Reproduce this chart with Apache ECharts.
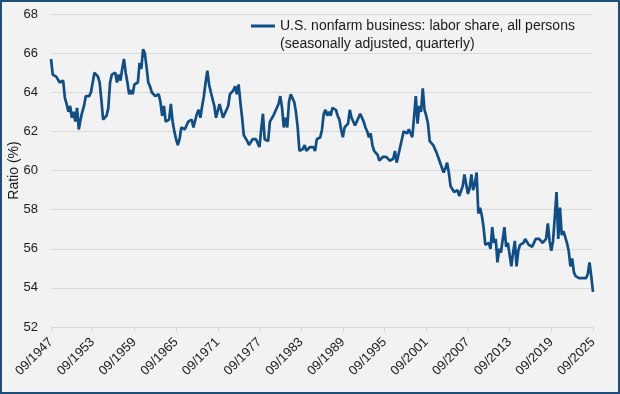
<!DOCTYPE html>
<html>
<head>
<meta charset="utf-8">
<script src="https://cdn.jsdelivr.net/npm/echarts@6/dist/echarts.min.js"></script>
<style>
html,body{margin:0;padding:0;background:#f2f2f2;}
#wrap{position:relative;width:620px;height:394px;}
#chart{width:620px;height:394px;}
#frame{position:absolute;left:0;top:0;width:620px;height:394px;box-sizing:border-box;border:2px solid #1f4e79;pointer-events:none;}
</style>
</head>
<body>
<div id="wrap"><div id="chart"></div><div id="frame"></div></div>
<script>
// First observation: Q3 1947 (09/1947), quarterly through 09/2025
const startYear = 1947;
const startQuarter = 3;
const quarterMonths = ['03', '06', '09', '12'];
const seriesName = 'U.S. nonfarm business: labor share, all persons';
const seriesNameLine2 = '(seasonally adjusted, quarterly)';
const yTicks = [52, 54, 56, 58, 60, 62, 64, 66, 68];

// Labor share (%)
const share1947to1972 = [
  65.7, 64.9, 64.8, 64.8, 64.8, 64.5, 64.6, 64.6, 63.7, 63.4,
  63.0, 63.3, 62.7, 63.0, 62.5, 63.2, 62.1, 62.6, 63.0, 63.3,
  63.8, 63.8, 63.8, 64.0, 64.1, 65.0, 65.1, 64.8, 64.5, 63.6,
  62.6, 62.7, 62.8, 63.2, 64.5, 64.9, 65.0, 65.0, 64.5, 64.9,
  64.6, 65.2, 65.7, 65.0, 64.5, 63.9, 64.1, 63.9, 64.4, 64.5,
  64.5, 65.5, 65.2, 66.2, 66.0, 65.3, 64.5, 64.3, 64.0, 64.1,
  63.8, 63.9, 63.9, 63.5, 62.8, 63.3, 62.5, 62.6, 62.6, 63.4,
  62.5, 62.0, 61.6, 61.3, 61.6, 62.2, 62.1, 62.1, 62.3, 62.5,
  62.6, 62.6, 62.2, 62.1, 62.9, 63.1, 62.7, 63.3, 63.8, 64.5,
  65.1, 64.4, 64.0, 64.1, 63.3, 62.7, 62.8, 63.4, 63.3, 62.7,
  62.9, 62.9, 63.3, 63.9
];
const share1973to1998 = [
  64.0, 64.1, 64.3, 63.9, 64.4, 63.5,
  62.7, 61.8, 61.7, 61.5, 61.3, 61.4, 61.6, 61.6, 61.6, 61.4,
  61.2, 62.1, 62.9, 61.6, 61.6, 61.5, 62.5, 62.6, 62.8, 63.0,
  62.9, 63.4, 63.8, 63.2, 62.2, 62.7, 62.2, 63.5, 63.9, 63.7,
  63.5, 63.0, 62.2, 61.0, 61.1, 61.1, 61.3, 61.0, 61.1, 61.2,
  61.3, 61.2, 61.0, 61.6, 61.6, 61.7, 62.1, 62.9, 63.1, 62.8,
  63.0, 62.8, 63.2, 63.3, 63.1, 62.8, 62.6, 62.1, 61.7, 62.2,
  62.3, 62.4, 63.1, 62.7, 62.6, 62.3, 62.5, 62.7, 62.9, 62.8,
  62.5, 62.2, 62.0, 61.7, 61.9, 61.3, 61.0, 61.0, 60.8, 60.5,
  60.5, 60.7, 60.7, 60.7, 60.7, 60.5, 60.5, 60.6, 61.0, 60.4,
  60.4, 61.2, 61.6, 62.0
];
const share1998to2025 = [
  62.0, 61.9, 62.1, 62.0, 61.7, 61.7,
  63.8, 62.4, 63.3, 63.0, 64.2, 63.1, 62.8, 62.4, 61.5, 61.6,
  61.3, 61.3, 60.9, 60.8, 60.4, 60.4, 59.9, 60.1, 60.4, 59.9,
  59.2, 59.2, 58.9, 58.8, 59.0, 58.7, 58.6, 59.2, 59.8, 59.3,
  58.8, 59.1, 59.8, 59.0, 59.3, 59.9, 57.8, 58.1, 57.7, 57.1,
  56.2, 56.3, 56.3, 56.0, 57.1, 56.3, 56.5, 55.3, 56.0, 55.8,
  55.7, 57.1, 56.1, 56.3, 55.7, 55.1, 55.8, 56.4, 55.1, 55.9,
  56.2, 56.3, 56.3, 56.5, 56.4, 56.2, 56.1, 56.1, 56.3, 56.5,
  56.6, 56.5, 56.4, 56.3, 56.4, 56.5, 57.3, 56.4, 55.9, 56.4,
  57.6, 58.9, 56.5, 58.1, 56.7, 56.9, 56.9, 56.3, 55.9, 55.1,
  55.5, 54.8, 54.6, 54.6, 54.5, 54.4, 54.5, 54.6, 54.5, 54.7,
  55.3, 54.6, 53.8
];
const laborShare = share1947to1972.concat(share1973to1998, share1998to2025);

const categories = laborShare.map(function (_, i) {
  const q = startQuarter - 1 + i;
  const year = startYear + Math.floor(q / 4);
  return quarterMonths[q % 4] + '/' + year;
});

const FONT = '"Liberation Sans", Arial, sans-serif';
const TEXT = '#1a1a1a';
const chart = echarts.init(document.getElementById('chart'), null, {renderer: 'canvas'});
chart.setOption({
  backgroundColor: '#f2f2f2',
  animation: false,
  textStyle: {fontFamily: FONT},
  grid: {left: 51, right: 27, top: 14, bottom: 67, containLabel: false, outerBoundsMode: 'none'},
  legend: {
    show: true,
    left: 251,
    top: 19,
    padding: 0,
    icon: 'rect',
    itemWidth: 24,
    itemHeight: 3,
    textStyle: {fontFamily: FONT, fontSize: 14, color: TEXT},
    data: [seriesName]
  },
  graphic: [{
    type: 'text',
    left: 280,
    top: 37,
    silent: true,
    style: {text: seriesNameLine2, font: '14px ' + FONT, fill: TEXT}
  }],
  xAxis: {
    type: 'category',
    data: categories,
    boundaryGap: false,
    axisLine: {show: true, lineStyle: {color: '#d9d9d9', width: 1}},
    axisTick: {show: true, interval: 23, length: 5, lineStyle: {color: '#d9d9d9'}},
    axisLabel: {interval: 23, rotate: 45, fontSize: 13, color: TEXT, margin: 13, fontFamily: FONT},
    splitLine: {show: false}
  },
  yAxis: {
    type: 'value',
    min: yTicks[0],
    max: yTicks[yTicks.length - 1],
    interval: 2,
    name: 'Ratio (%)',
    nameLocation: 'middle',
    nameGap: 30,
    nameMoveOverlap: false,
    nameTextStyle: {fontSize: 14, color: TEXT, fontFamily: FONT},
    axisLine: {show: false},
    axisTick: {show: false},
    axisLabel: {fontSize: 13, color: TEXT, margin: 13, fontFamily: FONT},
    splitLine: {show: true, lineStyle: {color: '#d9d9d9', width: 1}}
  },
  series: [{
    name: seriesName,
    type: 'line',
    data: laborShare,
    symbol: 'none',
    showSymbol: false,
    lineStyle: {color: '#0f4e86', width: 2.7},
    itemStyle: {color: '#0f4e86'}
  }]
});
</script>
</body>
</html>
